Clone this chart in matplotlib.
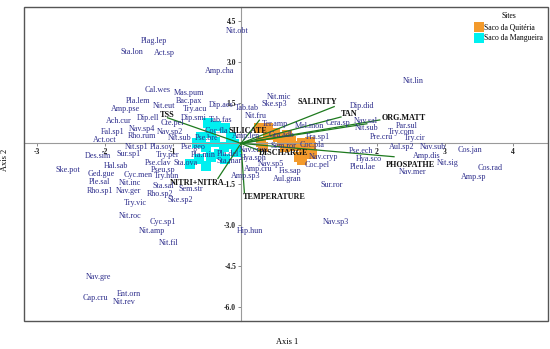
import numpy as np
import matplotlib.pyplot as plt
from matplotlib.patches import Rectangle

plt.rcParams['font.family'] = ['Liberation Serif', 'DejaVu Serif']

# species scores (axis 1, axis 2)
species = ['Nit.obt', 'Plag.lep', 'Sta.lon', 'Act.sp', 'Amp.cha', 'Nit.lin', 'Cal.wes', 'Mas.pum',
           'Nit.mic', 'Pla.lem', 'Bac.pax', 'Ske.sp3', 'Amp.pse', 'Nit.eut', 'Try.acu', 'Dip.aes',
           'Tab.tab', 'Dip.did', 'Ach.cur', 'Dip.ell', 'Dip.smi', 'Tab.fas', 'Nit.fru', 'Cte.pel',
           'Ter.amp', 'Mel.mon', 'Cera.sp', 'Nav.sal', 'Nit.sub', 'Par.sul', 'Nav.sp4', 'Nav.sp2',
           'Coc.fla', 'Fal.sp1', 'Rho.rum', 'Nit.sub', 'Pse.bre', 'Amp.len', 'Gra.adb', 'Try.com',
           'Pre.cru', 'Fra.sp1', 'Try.cir', 'Act.oct', 'Nit.sp1', 'Pla.soy', 'Pse.geo', 'Sem.ror',
           'Coc.pla', 'Aul.sp2', 'Nav.sub', 'Cos.jan', 'Pse.ech', 'Nav.crux', 'Des.sim', 'Sur.sp1',
           'Try.per', 'Pla.min', 'Pla.del', 'Hya.sph', 'Nav.cryp', 'Amp.dis', 'Hya.sco', 'Sta.mar',
           'Sta.ova', 'Pse.clav', 'Hal.sab', 'Coc.pel', 'Pleu.lae', 'Nit.sig', 'Nav.mer', 'Cos.rad',
           'Ske.pot', 'Nav.sp5', 'Pseu.sp', 'Amp.cru', 'Fis.sap', 'Ged.gue', 'Cyc.men', 'Try.hun',
           'Amp.sp3', 'Amp.sp', 'Aul.gran', 'Ple.sal', 'Nit.inc', 'Sta.sal', 'Sur.ror', 'Sem.str',
           'Rho.sp1', 'Nav.ger', 'Rho.sp2', 'Ske.sp2', 'Try.vic', 'Nit.roc', 'Cyc.sp1', 'Nav.sp3',
           'Nit.amp', 'Hip.hun', 'Nit.fil', 'Nav.gre', 'Ent.orn', 'Cap.cru', 'Nit.rev']
sp_x = [-0.06, -1.28, -1.61, -1.12, -0.32, 2.54, -1.22, -0.76,
        0.56, -1.51, -0.76, 0.49, -1.70, -1.13, -0.68, -0.29,
        0.09, 1.78, -1.80, -1.36, -0.69, -0.30, 0.22, -1.01,
        0.50, 1.00, 1.42, 1.83, 1.84, 2.44, -1.45, -1.04,
        -0.36, -1.88, -1.46, -0.90, -0.50, 0.08, 0.60, 2.36,
        2.07, 1.13, 2.55, -2.00, -1.54, -1.17, -0.70, 0.63,
        1.04, 2.36, 2.82, 3.37, 1.76, 0.19, -2.10, -1.65,
        -1.08, -0.56, -0.19, 0.18, 1.21, 2.73, 1.88, -0.18,
        -0.82, -1.22, -1.84, 1.12, 1.79, 3.04, 2.52, 3.66,
        -2.54, 0.44, -1.15, 0.26, 0.72, -2.05, -1.51, -1.09,
        0.07, 3.42, 0.68, -2.08, -1.63, -1.15, 1.34, -0.74,
        -2.07, -1.65, -1.19, -0.89, -1.56, -1.63, -1.15, 1.40,
        -1.31, 0.13, -1.07, -2.09, -1.64, -2.14, -1.72]
sp_y = [4.14, 3.76, 3.34, 3.30, 2.64, 2.29, 1.96, 1.84,
        1.70, 1.55, 1.57, 1.46, 1.25, 1.36, 1.25, 1.41,
        1.29, 1.37, 0.82, 0.92, 0.92, 0.87, 0.99, 0.73,
        0.71, 0.62, 0.73, 0.83, 0.58, 0.65, 0.54, 0.42,
        0.45, 0.40, 0.27, 0.21, 0.21, 0.27, 0.31, 0.43,
        0.24, 0.24, 0.18, 0.11, -0.15, -0.13, -0.12, -0.09,
        -0.06, -0.15, -0.15, -0.26, -0.28, -0.24, -0.47, -0.40,
        -0.44, -0.44, -0.40, -0.53, -0.50, -0.45, -0.59, -0.66,
        -0.72, -0.71, -0.82, -0.81, -0.86, -0.73, -1.06, -0.91,
        -0.99, -0.77, -0.98, -0.94, -1.02, -1.13, -1.16, -1.21,
        -1.21, -1.24, -1.32, -1.43, -1.44, -1.57, -1.54, -1.69,
        -1.73, -1.73, -1.84, -2.08, -2.19, -2.66, -2.89, -2.89,
        -3.22, -3.23, -3.64, -4.90, -5.52, -5.69, -5.84]

# environmental variables: arrow tip and label position
env_names = ['SALINITY', 'TAN', '', 'ORG.MATT', 'PHOSPATHE', 'DISCHARGE',
             'TEMPERATURE', 'NITRI+NITRA', 'TSS', 'SILICATE']
env_x = [1.37, 1.47, 1.85, 2.04, 2.25, 0.30, 0.05, -0.34, -1.08, 0.27]
env_y = [1.35, 0.97, 0.72, 0.86, -0.49, -0.30, -1.81, -1.29, 0.94, 0.85]
lab_x = [1.12, 1.59, 0, 2.39, 2.49, 0.62, 0.49, -0.64, -1.08, 0.10]
lab_y = [1.53, 1.08, 0, 0.95, -0.78, -0.36, -1.96, -1.44, 1.06, 0.47]

# sample scores
quit_x = [0.26, 0.40, 0.39, 0.30, 0.32, 0.55, 0.68, 0.60, 0.73, 0.78, 0.64, 0.89,
          0.92, 1.03, 1.02, 0.86, 0.90, 1.04, 0.50]
quit_y = [0.58, 0.58, 0.31, 0.06, -0.12, 0.24, 0.31, 0.06, 0.10, -0.10, -0.12, 0.0,
          -0.24, -0.12, 0.06, -0.49, -0.61, -0.39, 0.37]
mang_x = [-0.49, -0.37, -0.23, -0.44, -0.59, -0.64, -0.51, -0.38, -0.25, -0.15, -0.10,
          -0.08, -0.33, -0.44, -0.62, -0.75, -0.23, -0.52]
mang_y = [0.73, 0.64, 0.55, 0.37, 0.24, 0.0, -0.12, 0.06, -0.12, 0.24, -0.02,
          -0.31, -0.39, -0.49, -0.59, -0.76, -0.59, -0.82]

fig = plt.figure(figsize=(5.5, 3.49), dpi=100)
ax = fig.add_axes([0.0436, 0.081, 0.9524, 0.9])

ax.scatter(quit_x, quit_y, marker='s', s=44, color='#F39A2C', linewidths=0,
           label='Saco da Quitéria', zorder=2)
ax.scatter(mang_x, mang_y, marker='s', s=44, color='#00F0F0', linewidths=0,
           label='Saco da Mangueira', zorder=2)

for i in range(len(env_names)):
    ax.plot([0, env_x[i]], [0, env_y[i]], color='#1E7A1E', lw=0.9, zorder=3)
    if env_names[i]:
        ax.text(lab_x[i], lab_y[i], env_names[i], fontsize=5.9, fontweight='bold',
                ha='center', va='center', color='#111111', zorder=5)

for name, x, y in zip(species, sp_x, sp_y):
    ax.text(x, y, name, fontsize=5.9, ha='center', va='center', color='#2E2E8C', zorder=4)

ax.set_xlim(-3.19, 4.51)
ax.set_ylim(-6.51, 5.02)

# axes through the origin, box around the plot
for s in ['top', 'right']:
    ax.spines[s].set_visible(False)
ax.spines['left'].set_position('zero')
ax.spines['bottom'].set_position('zero')
ax.spines['left'].set_color('#9a9a9a')
ax.spines['bottom'].set_color('#9a9a9a')
ax.spines['left'].set_linewidth(0.8)
ax.spines['bottom'].set_linewidth(0.8)
ax.add_patch(Rectangle((0, 0), 1, 1, transform=ax.transAxes, fill=False,
                       ec='#555555', lw=1.0, clip_on=False, zorder=6))

ax.set_xticks([-3, -2, -1, 1, 2, 3, 4])
ax.set_xticklabels(['-3', '-2', '-1', '1', '2', '3', '4'])
ax.set_yticks([4.5, 3.0, 1.5, -1.5, -3.0, -4.5, -6.0])
ax.set_yticklabels(['4.5', '3.0', '1.5', '-1.5', '-3.0', '-4.5', '-6.0'])
ax.tick_params(axis='both', length=2, width=0.6, color='#777777', labelsize=5.5, pad=1.5)
for t in ax.get_xticklabels() + ax.get_yticklabels():
    t.set_fontweight('bold')
    t.set_color('#222222')

ax.set_xlabel('Axis 1', fontsize=6)
ax.set_ylabel('Axis 2', fontsize=6)
ax.xaxis.set_label_coords(0.502, -0.055)
ax.yaxis.set_label_coords(-0.029, 0.512)

leg = ax.legend(title='Sites', loc='upper right', bbox_to_anchor=(1.0, 1.0), frameon=False,
                fontsize=5.5, title_fontsize=5.5, handletextpad=0.1, borderaxespad=0.3,
                markerscale=1.0, labelspacing=0.4, handlelength=1.0)

fig.savefig('out.png', dpi=100)
